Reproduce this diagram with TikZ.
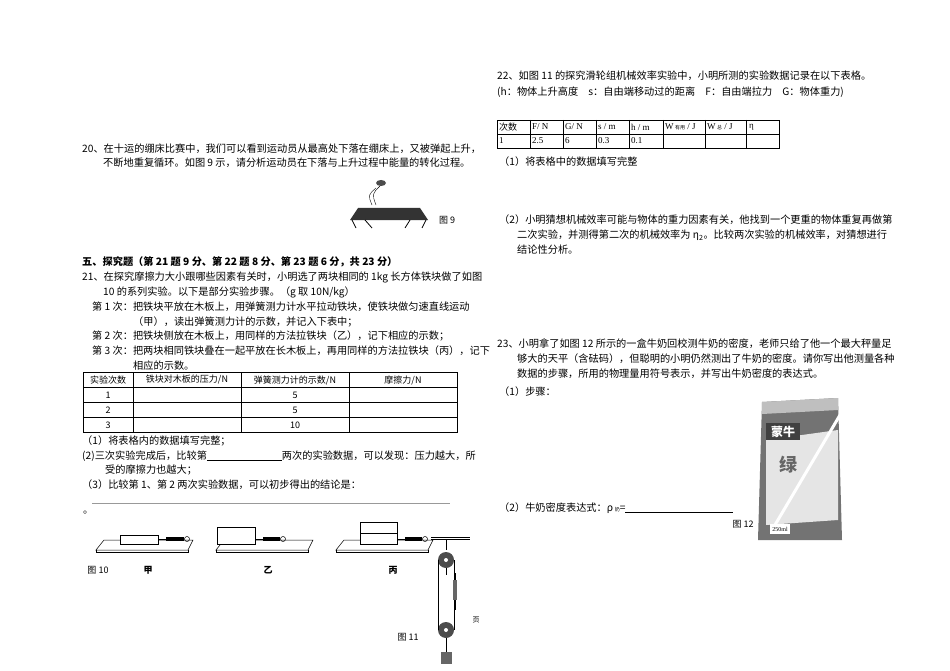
\documentclass[tikz,border=0pt]{standalone}
\usepackage{fontspec}
\setmainfont{Liberation Serif}
\newfontfamily\cjk{Noto Sans CJK SC}
\begin{document}
\begin{tikzpicture}[x=1pt,y=-1pt,
  t/.style={anchor=west,inner sep=0pt,font=\cjk\fontsize{10.2}{12}\selectfont},
  ts/.style={inner sep=0pt,font=\cjk\fontsize{9}{11}\selectfont},
  tr/.style={anchor=west,inner sep=0pt,font=\fontsize{9}{11}\selectfont},
  g/.style={line width=0.5pt}]
\useasboundingbox (0,0) rectangle (950,671);
\fill[white] (0,0) rectangle (950,671);
% Q20
\node[t] (q20a) at (82,149) {20、在十运的绷床比赛中，我们可以看到运动员从最高处下落在绷床上，又被弹起上升，};
\node[t] (q20b) at (103,163) {不断地重复循环。如图 9 示，请分析运动员在下落与上升过程中能量的转化过程。};
% trampoline
\fill[black!80] (358,208) -- (420,208) -- (428,220) -- (350,220) -- cycle;
\draw[thick] (352,220) -- (356,228) (426,220) -- (422,228) (365,220)--(372,228) (410,220)--(405,228);
\draw[thin] (372,205) .. controls (368,195) .. (376,188);
\draw[thin] (376,205) .. controls (372,194) .. (380,186);
\fill[black!70] (381,183) ellipse (5 and 3);
\node[ts] (f9) at (447,220) {图 9};
% section 5
\node[t,font=\cjk\bfseries\fontsize{10.2}{12}\selectfont] (s5) at (82,262) {五、探究题（第 21 题 9 分、第 22 题 8 分、第 23 题 6 分，共 23 分）};
\node[t] (q21a) at (82,277) {21、在探究摩擦力大小跟哪些因素有关时，小明选了两块相同的 1kg 长方体铁块做了如图};
\node[t] (q21b) at (103,292) {10 的系列实验。以下是部分实验步骤。（g 取 10N/kg）};
\node[t] (q21c) at (92,307) {第 1 次：把铁块平放在木板上，用弹簧测力计水平拉动铁块，使铁块做匀速直线运动};
\node[t] (q21d) at (133,322) {（甲），读出弹簧测力计的示数，并记入下表中；};
\node[t] (q21e) at (92,336) {第 2 次：把铁块侧放在木板上，用同样的方法拉铁块（乙），记下相应的示数；};
\node[t] (q21f) at (92,351) {第 3 次：把两块相同铁块叠在一起平放在长木板上，再用同样的方法拉铁块（丙），记下};
\node[t] (q21g) at (133,366) {相应的示数。};
% table 1
\draw[g] (83,372) rectangle (457,432);
\foreach \y in {387,402,417} \draw[g] (83,\y) -- (457,\y);
\foreach \x in {133,241,349} \draw[g] (\x,372) -- (\x,432);
\node[ts] (h1) at (108,380) {实验次数};
\node[ts] (h2) at (187,380) {铁块对木板的压力/N};
\node[ts] (h3) at (295,380) {弹簧测力计的示数/N};
\node[ts] (h4) at (403,380) {摩擦力/N};
\node[ts] (r1) at (108,395) {1}; \node[ts] (r1v) at (295,395) {5};
\node[ts] (r2) at (108,410) {2}; \node[ts] (r2v) at (295,410) {5};
\node[ts] (r3) at (108,425) {3}; \node[ts] (r3v) at (295,425) {10};
\node[t] (p1) at (82,441) {（1）将表格内的数据填写完整；};
\node[t] (p2) at (82,456) {(2)三次实验完成后，比较第\rule[-1pt]{75pt}{0.3pt}两次的实验数据，可以发现：压力越大，所};
\node[t] (p2b) at (105,470) {受的摩擦力也越大；};
\node[t] (p3) at (82,485) {（3）比较第 1、第 2 两次实验数据，可以初步得出的结论是：};
\draw[black!40,g] (92,503) -- (450,503);
\node[t] (dot) at (83,513) {。};
% fig 10
\foreach \ox/\k in {0/1,120/2,240/3}{
  \draw[g] (96+\ox,550) -- (104+\ox,540) -- (193+\ox,540) -- (188+\ox,550) -- cycle;
  \draw[g] (96+\ox,550) -- (96+\ox,552) -- (188+\ox,552) -- (188+\ox,550);
}
\draw[g,fill=white] (120,535) rectangle (158,544);
\draw[g,fill=white] (217,527) rectangle (255,544);
\draw[g,fill=white] (360,533) rectangle (397,544);
\draw[g,fill=white] (360,522) rectangle (397,533);
\foreach \a/\b in {158/190,255/286,397/428}{
  \draw[g] (\a,539) -- (\a+8,539);
  \fill (\a+8,537) rectangle (\b-6,541);
  \draw[g] (\b-3,539) circle (2.5);
}
\draw[g] (431,539) -- (470,539);
\draw[g] (431,537) -- (470,537);
\node[ts] (f10) at (98,570) {图 10};
\node[ts,font=\cjk\bfseries\fontsize{9}{11}\selectfont] (jia) at (148,570) {甲};
\node[ts,font=\cjk\bfseries\fontsize{9}{11}\selectfont] (yi) at (268,570) {乙};
\node[ts,font=\cjk\bfseries\fontsize{9}{11}\selectfont] (bing) at (393,570) {丙};
% fig 11 pulley
\draw[g] (446,539) -- (446,550);
\fill[black!70] (446,560) circle (8);
\fill[white] (446,560) circle (2);
\fill[black!70] (446,630) circle (8);
\fill[white] (446,630) circle (2);
\draw[g] (438,560) -- (438,630) (454,560) -- (454,630) (446,568) -- (446,575);
\draw[g] (455,573) -- (455,610);
\fill[black!60] (453,580) rectangle (457,600);
\draw[g] (446,638) -- (446,652);
\fill[black!60] (441,652) rectangle (452,664);
\node[ts] (f11) at (408,637) {图 11};
\node[ts,font=\cjk\fontsize{7}{8}\selectfont] (ye) at (476,620) {页};
% Q22
\node[t] (q22a) at (497,76) {22、如图 11 的探究滑轮组机械效率实验中，小明所测的实验数据记录在以下表格。};
\node[t] (q22b) at (497,92) {(h：物体上升高度\quad s：自由端移动过的距离\quad F：自由端拉力\quad G：物体重力)};
\draw[g] (497,120) rectangle (779,148);
\draw[g] (497,134) -- (779,134);
\foreach \x in {530,563,596,629,663,705,746} \draw[g] (\x,120) -- (\x,148);
\node[ts,anchor=west] (c1) at (499,127) {次数};
\node[tr] (c2) at (532,127) {F/ N};
\node[tr] (c3) at (565,127) {G/ N};
\node[tr] (c4) at (598,127) {s / m};
\node[tr] (c5) at (631,127) {h / m};
\node[tr] (c6) at (665,127) {W\,{\cjk\fontsize{5}{6}\selectfont 有用} / J};
\node[tr] (c7) at (707,127) {W\,{\cjk\fontsize{5}{6}\selectfont 总} / J};
\node[tr] (c8) at (749,127) {η};
\node[tr] (d1) at (499,141) {1};
\node[tr] (d2) at (532,141) {2.5};
\node[tr] (d3) at (565,141) {6};
\node[tr] (d4) at (598,141) {0.3};
\node[tr] (d5) at (631,141) {0.1};
\node[t] (q22c) at (499,162) {（1）将表格中的数据填写完整};
\node[t] (q22d) at (499,220) {（2）小明猜想机械效率可能与物体的重力因素有关，他找到一个更重的物体重复再做第};
\node[t] (q22e) at (517,235) {二次实验，并测得第二次的机械效率为 η\textsubscript{2}。比较两次实验的机械效率，对猜想进行};
\node[t] (q22f) at (517,250) {结论性分析。};
% Q23
\node[t] (q23a) at (497,344) {23、小明拿了如图 12 所示的一盒牛奶回校测牛奶的密度，老师只给了他一个最大秤量足};
\node[t] (q23b) at (517,359) {够大的天平（含砝码），但聪明的小明仍然测出了牛奶的密度。请你写出他测量各种};
\node[t] (q23c) at (517,374) {数据的步骤，所用的物理量用符号表示，并写出牛奶密度的表达式。};
\node[t] (q23d) at (499,392) {（1）步骤：};
\node[t] (q23e) at (499,508) {（2）牛奶密度表达式：ρ\,{\cjk\fontsize{5}{6}\selectfont 奶}=\rule[-1pt]{108pt}{0.3pt}};
\node[ts] (f12) at (743,524) {图 12};
% milk carton
\fill[black!55] (762,402) -- (838,398) -- (842,540) -- (758,540) -- cycle;
\fill[black!25] (762,402) -- (838,398) -- (838,410) -- (762,414) -- cycle;
\fill[black!10] (766,440) -- (838,430) -- (838,520) -- (766,525) -- cycle;
\fill[black!75] (766,423) rectangle (800,440);
\node[ts,font=\cjk\bfseries\fontsize{12}{14}\selectfont,text=white] (mn) at (783,432) {蒙牛};
\node[ts,font=\cjk\bfseries\fontsize{18}{20}\selectfont,text=black!60] (lv) at (788,465) {绿};
\draw[white,line width=3pt] (772,530) -- (840,415);
\fill[white] (770,524) rectangle (790,534);
\node[ts,font=\fontsize{6}{7}\selectfont] (ml) at (780,529) {250ml};
\end{tikzpicture}
\end{document}
